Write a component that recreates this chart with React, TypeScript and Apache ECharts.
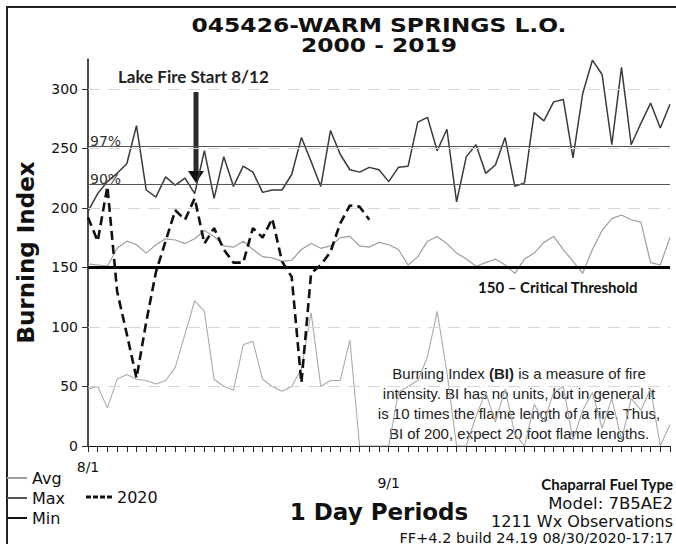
import React, { useEffect, useRef } from "react";
import * as echarts from "echarts";

// ---- data ----
const augustDays: string[] = Array.from({ length: 31 }, (_, i) => `8/${i + 1}`);
const septemberDays: string[] = Array.from({ length: 30 }, (_, i) => `9/${i + 1}`);
const categories: string[] = [...augustDays, ...septemberDays];
const xLabelDays: string[] = ["8/1", "9/1"];

const maxValues: number[] = [
  197, 212, 222, 229, 237, 269, 215, 209, 226, 219, 225, 212, 248, 208, 243, 218, 235, 230, 213, 215,
  215, 228, 259, 239, 218, 265, 245, 232, 230, 234, 232, 222, 234, 235, 272, 276, 248, 266, 205, 243,
  253, 229, 236, 259, 218, 221, 280, 273, 289, 291, 242, 296, 324, 312, 253, 318, 253, 271, 288, 267,
  287,
];
const avgValues: number[] = [
  153, 152, 151, 166, 172, 169, 162, 169, 174, 173, 170, 174, 181, 176, 168, 167, 172, 165, 159, 158,
  155, 156, 165, 170, 166, 168, 175, 176, 168, 167, 171, 169, 165, 152, 159, 172, 176, 170, 162, 157,
  151, 154, 157, 152, 145, 157, 162, 171, 176, 165, 155, 145, 165, 181, 191, 194, 190, 188, 154, 152,
  175,
];
const minValues: number[] = [
  48, 50, 32, 56, 60, 56, 55, 52, 55, 66, 94, 122, 113, 56, 50, 47, 85, 88, 56, 50,
  46, 50, 65, 112, 50, 55, 55, 89, 0, 0, 0, 0, 45, 50, 55, 75, 113, 62, 0, 0,
  25, 45, 20, 48, 10, 0, 35, 20, 45, 50, 5, 30, 45, 15, 40, 5, 40, 30, 48, 0,
  18,
];
const values2020: number[] = [
  192, 172, 218, 130, 94, 57, 104, 146, 172, 198, 190, 208, 170, 183, 165, 154, 154, 183, 175, 191,
  155, 142, 53, 145, 152, 163, 187, 202, 201, 190,
];

const yTicks: number[] = [0, 50, 100, 150, 200, 250, 300];
const gridValues: number[] = [50, 100, 200, 250, 300];
const criticalThreshold = 150;
const percentile97 = 252;
const percentile90 = 220;

const titleLines: string[] = ["045426-WARM SPRINGS L.O.", "2000 - 2019"];
const textBoxLines: string[] = [
  "Burning Index {b|(BI)} is a measure of fire",
  "intensity. BI has no units, but in general it",
  "is 10 times the flame length of a fire. Thus,",
  "BI of 200, expect 20 foot flame lengths.",
];

const SANS = '"DejaVu Sans"';
const ARIAL = '"Liberation Sans"';
const CAL = "Lato";

const DASH_ICON = "path://M0,0h5v3h-5z M7,0h5v3h-5z M14,0h5v3h-5z M21,0h5v3h-5z";

export default function App() {
  const ref = useRef<HTMLDivElement>(null);

  useEffect(() => {
    if (!ref.current) return;
    const chart = echarts.init(ref.current, undefined, { renderer: "svg" });

    const pctLabel = (txt: string) => ({
      show: true,
      formatter: txt,
      position: "insideStartTop",
      distance: [2, -2],
      fontSize: 14,
      fontFamily: SANS,
      color: "#333",
    });

    const option: any = {
      animation: false,
      backgroundColor: "#fff",
      textStyle: { fontFamily: SANS },
      grid: { left: 88, right: 6, top: 59, bottom: 98 },
      legend: [
        {
          orient: "vertical",
          left: 7,
          top: 470,
          padding: 0,
          itemWidth: 20,
          itemHeight: 2,
          itemGap: 4,
          icon: "rect",
          selectedMode: false,
          textStyle: { fontSize: 16, lineHeight: 16, color: "#111", fontFamily: SANS },
          data: [
            { name: "Avg", itemStyle: { color: "#a0a0a0" } },
            { name: "Max", itemStyle: { color: "#555" } },
            { name: "Min", itemStyle: { color: "#111" } },
          ],
        },
        {
          left: 86,
          top: 489,
          padding: 0,
          itemWidth: 26,
          itemHeight: 3,
          selectedMode: false,
          textStyle: { fontSize: 16, lineHeight: 16, color: "#111", fontFamily: SANS },
          data: [{ name: "2020", icon: DASH_ICON, itemStyle: { color: "#111" } }],
        },
      ],
      xAxis: {
        type: "category",
        data: categories,
        boundaryGap: false,
        axisLine: { lineStyle: { color: "#111", width: 1 } },
        axisTick: { show: true, interval: 0, length: 6, lineStyle: { color: "#222" } },
        axisLabel: {
          interval: (_i: number, v: string) => xLabelDays.includes(v),
          formatter: (v: string) => (v === "9/1" ? "\n" + v : v),
          fontSize: 14,
          lineHeight: 16,
          margin: 13,
          color: "#111",
          fontFamily: SANS,
        },
        splitLine: { show: false },
        name: "1 Day Periods",
        nameLocation: "middle",
        nameGap: 54,
        nameTextStyle: { fontSize: 23, fontWeight: "bold", color: "#111", fontFamily: SANS },
      },
      yAxis: {
        type: "value",
        min: 0,
        max: 325,
        interval: 50,
        axisLine: { show: true, lineStyle: { color: "#111", width: 1.5 } },
        axisTick: { show: true, length: 6, customValues: yTicks, lineStyle: { color: "#333" } },
        axisLabel: {
          customValues: yTicks,
          formatter: (v: number) => (v <= 300 ? String(v) : ""),
          fontSize: 14,
          margin: 10,
          color: "#111",
          fontFamily: SANS,
        },
        splitLine: { show: false },
        name: "Burning Index",
        nameLocation: "middle",
        nameRotate: 90,
        nameGap: 51,
        nameTextStyle: { fontSize: 23, fontWeight: "bold", color: "#111", fontFamily: SANS },
      },
      series: [
        {
          name: "Avg",
          type: "line",
          data: avgValues,
          symbol: "none",
          z: 2,
          lineStyle: { color: "#9e9e9e", width: 1.2 },
          itemStyle: { color: "#9e9e9e" },
          markLine: {
            silent: true,
            symbol: "none",
            label: { show: false },
            lineStyle: { color: "#d6d6d6", width: 1, type: [12, 8] },
            data: gridValues.map((v) => ({ yAxis: v })),
          },
        },
        {
          name: "Max",
          type: "line",
          data: maxValues,
          symbol: "none",
          z: 3,
          lineStyle: { color: "#3a3a3a", width: 1.5 },
          itemStyle: { color: "#3a3a3a" },
          markLine: {
            silent: true,
            symbol: "none",
            data: [
              { yAxis: percentile97, label: pctLabel("97%"), lineStyle: { color: "#555", width: 1, type: "solid" } },
              { yAxis: percentile90, label: pctLabel("90%"), lineStyle: { color: "#555", width: 1, type: "solid" } },
              { yAxis: criticalThreshold, label: { show: false }, lineStyle: { color: "#000", width: 3, type: "solid" } },
            ],
          },
        },
        {
          name: "Min",
          type: "line",
          data: minValues,
          symbol: "none",
          z: 2,
          lineStyle: { color: "#ababab", width: 1.1 },
          itemStyle: { color: "#ababab" },
        },
        {
          name: "2020",
          type: "line",
          data: values2020,
          symbol: "none",
          z: 5,
          lineStyle: { color: "#111", width: 2.6, type: [9, 5] },
          itemStyle: { color: "#111" },
        },
      ],
      graphic: [
        {
          type: "rect",
          silent: true,
          shape: { x: 7, y: 7, width: 720, height: 620 },
          style: { fill: "none", stroke: "#222", lineWidth: 2 },
        },
        {
          type: "text",
          x: 379,
          y: 35,
          scaleX: 1.2,
          style: {
            text: titleLines.join("\n"),
            font: `bold 19.5px ${SANS}`,
            lineHeight: 19.5,
            fill: "#111",
            align: "center",
            verticalAlign: "middle",
          },
        },
        {
          type: "text",
          x: 118,
          y: 76,
          style: { text: "Lake Fire Start 8/12", font: `bold 17px ${CAL}`, fill: "#222", align: "left", verticalAlign: "middle" },
        },
        {
          type: "rect",
          shape: { x: 193.5, y: 92, width: 5, height: 80 },
          style: { fill: "#2a2a2a" },
        },
        {
          type: "polygon",
          shape: { points: [[188, 171], [204, 171], [196, 183]] },
          style: { fill: "#111" },
        },
        {
          type: "text",
          x: 478,
          y: 287,
          style: { text: "150 \u2013 Critical Threshold", font: `bold 15px ${CAL}`, fill: "#111", align: "left", verticalAlign: "middle" },
        },
        {
          type: "text",
          x: 519,
          y: 403,
          style: {
            text: textBoxLines.join("\n"),
            fontSize: 15,
            fontFamily: ARIAL,
            lineHeight: 20,
            fill: "#222",
            align: "center",
            verticalAlign: "middle",
            rich: {
              b: { fontSize: 15, fontFamily: ARIAL, fontWeight: "bold", lineHeight: 20, fill: "#222" },
            },
          },
        },
        {
          type: "text",
          x: 673,
          y: 484,
          style: { text: "Chaparral Fuel Type", font: `bold 15px ${CAL}`, fill: "#111", align: "right", verticalAlign: "middle" },
        },
        {
          type: "text",
          x: 673,
          y: 503,
          style: { text: "Model: 7B5AE2", font: `16.5px ${SANS}`, fill: "#111", align: "right", verticalAlign: "middle" },
        },
        {
          type: "text",
          x: 673,
          y: 521,
          style: { text: "1211 Wx Observations", font: `16px ${SANS}`, fill: "#111", align: "right", verticalAlign: "middle" },
        },
        {
          type: "text",
          x: 673,
          y: 537.5,
          style: { text: "FF+4.2 build 24.19 08/30/2020-17:17", font: `14.5px ${SANS}`, fill: "#111", align: "right", verticalAlign: "middle" },
        },
      ],
    };

    chart.setOption(option);
    return () => chart.dispose();
  }, []);

  return (
    <div
      ref={ref}
      style={{ position: "fixed", left: 0, top: 0, width: 676, height: 544, background: "#fff" }}
    />
  );
}
